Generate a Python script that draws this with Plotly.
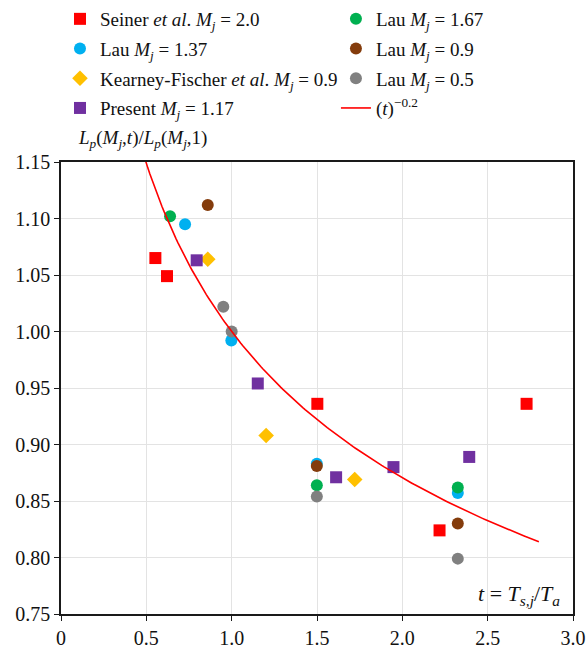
import numpy as np
import plotly.graph_objects as go

# Data: normalised potential-core length vs temperature ratio
seiner_t = [0.553, 0.621, 1.502, 2.218, 2.728]
seiner_L = [1.065, 1.049, 0.936, 0.824, 0.936]

lau137_t = [0.727, 0.998, 1.499, 2.325]
lau137_L = [1.095, 0.992, 0.883, 0.857]

kf_t = [0.860, 1.202, 1.721]
kf_L = [1.064, 0.908, 0.869]

present_t = [0.795, 1.153, 1.612, 1.948, 2.392]
present_L = [1.063, 0.954, 0.871, 0.880, 0.889]

lau167_t = [0.639, 1.499, 2.325]
lau167_L = [1.102, 0.864, 0.862]

lau09_t = [0.860, 1.499, 2.325]
lau09_L = [1.112, 0.881, 0.830]

lau05_t = [0.951, 1.0, 1.499, 2.325]
lau05_L = [1.022, 1.000, 0.854, 0.799]

fit_t = np.linspace(0.45, 2.8, 200)
fit_L = fit_t ** -0.2

x_ticks = [0, 0.5, 1.0, 1.5, 2.0, 2.5, 3.0]
x_tick_text = ["0", "0.5", "1.0", "1.5", "2.0", "2.5", "3.0"]
y_ticks = [0.75, 0.80, 0.85, 0.90, 0.95, 1.00, 1.05, 1.10, 1.15]

FONT = "Liberation Serif, Times New Roman, serif"

fig = go.Figure()

def add(t, L, name, color, symbol, size, legend, group):
    fig.add_trace(go.Scatter(
        x=t, y=L, mode="markers", name=name,
        marker=dict(color=color, symbol=symbol, size=size, line=dict(width=0)),
        legend=legend, legendgroup=group,
    ))

add(seiner_t, seiner_L, "Seiner <i>et al</i>. <i>M<sub>j</sub></i> = 2.0", "#FF0000", "square", 12, "legend", "a")
add(lau137_t, lau137_L, "Lau <i>M<sub>j</sub></i> = 1.37", "#00B0F0", "circle", 12, "legend", "b")
add(kf_t, kf_L, "Kearney-Fischer <i>et al</i>. <i>M<sub>j</sub></i> = 0.9", "#FFC000", "diamond", 12, "legend", "c")
add(present_t, present_L, "Present <i>M<sub>j</sub></i> = 1.17", "#7030A0", "square", 12, "legend", "d")
add(lau167_t, lau167_L, "Lau <i>M<sub>j</sub></i> = 1.67", "#00B050", "circle", 12, "legend2", "e")
add(lau09_t, lau09_L, "Lau <i>M<sub>j</sub></i> = 0.9", "#843C0C", "circle", 12, "legend2", "f")
add(lau05_t, lau05_L, "Lau <i>M<sub>j</sub></i> = 0.5", "#808080", "circle", 12, "legend2", "g")

fig.add_trace(go.Scatter(
    x=fit_t, y=fit_L, mode="lines", name="(<i>t</i>)<sup>\u22120.2</sup>",
    line=dict(color="#FF0000", width=1.6), legend="legend2", legendgroup="h",
))

axis_common = dict(
    showgrid=True, gridcolor="#E3E3E3", gridwidth=1,
    showline=True, linecolor="#1A1A1A", linewidth=1.5, mirror=True,
    ticks="outside", ticklen=5, tickcolor="#1A1A1A", tickwidth=1,
    tickfont=dict(family=FONT, size=20, color="#111111"),
    zeroline=False, automargin=False,
)

legend_common = dict(
    y=1.0, yref="container", xref="paper", xanchor="left", yanchor="top",
    bgcolor="rgba(0,0,0,0)", tracegroupgap=2,
    font=dict(family=FONT, size=19, color="#111111"),
)

fig.update_layout(
    width=586, height=649,
    margin=dict(l=61, r=13, t=162, b=35),
    plot_bgcolor="white", paper_bgcolor="white",
    font=dict(family=FONT, size=19, color="#111111"),
    xaxis=dict(range=[0, 3.0], tickvals=x_ticks, ticktext=x_tick_text, **axis_common),
    yaxis=dict(range=[0.75, 1.15], tickvals=y_ticks, tickformat=".2f", **axis_common),
    legend=dict(x=-0.002, **legend_common),
    legend2=dict(x=0.537, **legend_common),
    showlegend=True,
)

fig.add_annotation(
    text="<i>L<sub>p</sub></i>(<i>M<sub>j</sub></i>,<i>t</i>)/<i>L<sub>p</sub></i>(<i>M<sub>j</sub></i>,1)",
    xref="paper", yref="paper", x=0.03, y=1.02, xanchor="left", yanchor="bottom",
    showarrow=False, font=dict(family=FONT, size=19),
)
fig.add_annotation(
    text="<i>t</i> = <i>T<sub>s,j</sub></i>/<i>T<sub>a</sub></i>",
    xref="paper", yref="paper", x=0.978, y=0.006, xanchor="right", yanchor="bottom",
    showarrow=False, font=dict(family=FONT, size=22),
)

fig.write_html("out.html")
